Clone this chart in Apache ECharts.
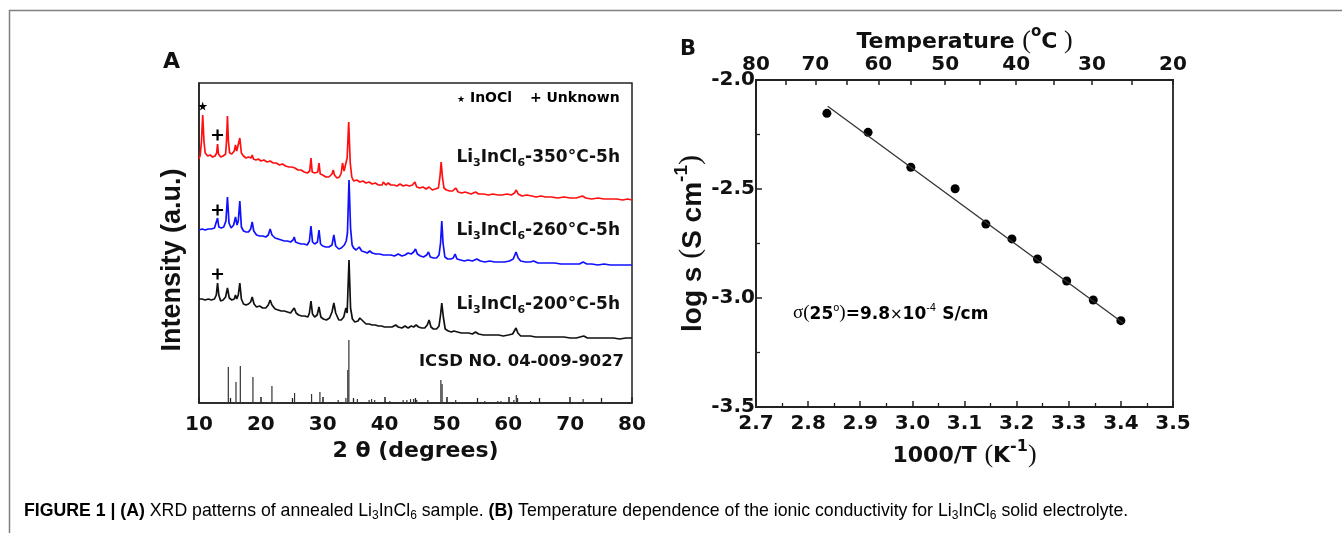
<!DOCTYPE html>
<html><head><meta charset="utf-8">
<script src="https://cdn.jsdelivr.net/npm/echarts@6.0.0/dist/echarts.min.js"></script>
<style>html,body{margin:0;padding:0;background:#fff}#c{width:1342px;height:533px}</style>
</head><body><div id="c"></div>
<script>
// ---------- Panel A: XRD patterns (2θ in degrees, intensity in arbitrary offset units) ----------
const xrd350 = [[10.0,244],[10.2,248],[10.4,262],[10.6,288],[10.8,262],[11.0,250],[11.4,247],[11.8,248],[12.2,246],[12.6,247],[12.85,250],[13.0,259],[13.15,249],[13.5,246],[13.9,247],[14.3,249],[14.45,262],[14.6,287],[14.75,262],[14.95,250],[15.3,249],[15.7,252],[15.9,258],[16.1,252],[16.35,254],[16.6,265],[16.85,250],[17.2,247],[17.6,245],[18.0,246],[18.4,245],[18.6,248],[18.8,244],[19.2,243],[19.6,244],[20.0,242],[20.5,243],[21.0,241],[21.5,242],[22.0,240],[22.5,240],[23.0,238],[23.5,239],[24.0,237],[24.5,236],[25.0,236],[25.5,235],[26.0,233],[26.5,233],[27.0,231],[27.5,230],[27.9,232],[28.1,245],[28.3,231],[28.7,230],[29.2,231],[29.4,240],[29.6,229],[30.0,228],[30.5,226],[31.0,226],[31.5,229],[31.7,233],[31.9,228],[32.3,225],[32.7,226],[33.0,230],[33.2,240],[33.45,232],[33.7,232],[33.95,245],[34.2,281],[34.45,240],[34.7,226],[35.0,222],[35.5,223],[36.0,221],[36.5,222],[37.0,220],[37.5,221],[38.0,219],[38.5,220],[39.0,218],[39.6,218],[39.8,221],[40.2,218],[40.6,220],[41.0,218],[41.5,218],[42.0,217],[42.5,219],[43.0,217],[43.5,218],[44.0,217],[44.5,218],[44.9,221],[45.2,216],[45.7,215],[46.2,216],[46.7,214],[47.2,216],[47.7,213],[48.2,214],[48.7,215],[48.95,226],[49.15,241],[49.35,226],[49.6,215],[50.0,213],[50.5,212],[51.0,212],[51.5,215],[51.9,211],[52.5,210],[53.0,211],[53.5,210],[54.0,209],[54.7,211],[55.2,209],[56.0,209],[56.8,208],[57.5,209],[58.3,208],[59.0,208],[59.8,209],[60.5,208],[61.0,210],[61.3,213],[61.6,209],[62.2,207],[63.0,208],[63.8,207],[64.5,206],[65.3,207],[66.0,206],[67.0,206],[68.0,205],[69.0,206],[70.0,205],[71.0,205],[72.0,207],[72.5,205],[73.5,204],[74.5,205],[75.5,204],[76.5,204],[77.5,204],[78.5,203],[79.3,204],[80.0,203]];
const xrd260 = [[10.0,173],[10.5,174],[11.0,173],[11.5,174],[12.0,174],[12.5,175],[12.8,177],[13.0,185],[13.2,176],[13.6,175],[14.0,176],[14.35,182],[14.6,206],[14.85,180],[15.2,175],[15.6,178],[15.9,186],[16.15,178],[16.35,182],[16.6,202],[16.85,176],[17.2,172],[17.6,171],[18.0,171],[18.35,174],[18.6,181],[18.85,172],[19.3,168],[19.8,167],[20.3,167],[20.8,166],[21.2,168],[21.5,174],[21.8,168],[22.3,165],[22.8,164],[23.3,163],[23.8,162],[24.3,162],[24.8,161],[25.2,163],[25.4,166],[25.6,161],[26.0,160],[26.5,159],[27.0,159],[27.5,158],[27.85,162],[28.1,177],[28.35,161],[28.7,159],[29.15,161],[29.4,173],[29.65,159],[30.0,157],[30.5,156],[31.0,156],[31.5,158],[31.8,168],[32.1,157],[32.6,154],[33.0,155],[33.5,158],[33.8,162],[34.0,170],[34.25,223],[34.5,175],[34.75,158],[35.0,155],[35.4,153],[35.9,156],[36.3,152],[36.8,151],[37.2,150],[37.6,152],[38.0,150],[38.6,149],[39.2,149],[39.8,148],[40.4,148],[41.0,148],[41.6,147],[42.2,149],[42.8,147],[43.3,148],[43.8,150],[44.3,149],[44.7,151],[45.0,154],[45.3,149],[45.8,147],[46.3,146],[46.8,148],[47.1,151],[47.4,146],[47.9,145],[48.4,145],[48.8,148],[49.05,160],[49.25,182],[49.45,160],[49.75,146],[50.2,144],[50.7,144],[51.1,145],[51.4,149],[51.7,144],[52.3,143],[52.9,142],[53.5,143],[54.2,142],[54.9,144],[55.5,142],[56.2,141],[57.0,142],[57.8,141],[58.6,141],[59.4,141],[60.2,142],[60.8,144],[61.25,151],[61.6,145],[62.0,142],[62.8,141],[63.5,141],[64.1,142],[64.8,140],[65.6,140],[66.5,140],[67.5,140],[68.5,139],[69.5,139],[70.5,139],[71.5,139],[72.1,141],[72.7,139],[73.5,139],[74.5,138],[75.5,139],[76.5,138],[77.5,138],[78.5,138],[79.3,138],[80.0,138]];
const xrd200 = [[10.0,104],[10.5,104],[11.0,103],[11.5,104],[12.0,103],[12.5,104],[12.8,108],[13.0,120],[13.2,108],[13.5,102],[13.9,103],[14.3,106],[14.6,115],[14.9,105],[15.3,103],[15.7,104],[15.9,108],[16.1,104],[16.35,108],[16.6,120],[16.85,104],[17.2,99],[17.6,98],[18.0,99],[18.35,101],[18.6,106],[18.9,99],[19.3,96],[19.8,97],[20.3,95],[20.8,95],[21.2,98],[21.5,103],[21.8,98],[22.3,94],[22.8,93],[23.3,92],[23.8,92],[24.3,91],[24.8,90],[25.1,92],[25.4,95],[25.7,90],[26.1,88],[26.6,87],[27.1,87],[27.6,86],[27.85,90],[28.1,102],[28.35,89],[28.7,86],[29.1,88],[29.4,96],[29.7,86],[30.1,84],[30.6,83],[31.1,85],[31.5,91],[31.8,100],[32.1,90],[32.6,83],[33.0,83],[33.4,86],[33.75,95],[33.95,90],[34.25,143],[34.5,95],[34.8,84],[35.2,81],[35.7,82],[36.0,85],[36.2,87],[36.5,82],[37.0,79],[37.5,79],[38.0,78],[38.5,78],[39.0,77],[39.5,77],[40.0,76],[40.6,76],[41.2,76],[41.8,78],[42.2,76],[42.8,75],[43.3,77],[43.8,75],[44.3,77],[44.7,76],[45.1,78],[45.5,76],[46.0,75],[46.5,75],[46.9,78],[47.2,83],[47.5,76],[47.9,74],[48.4,74],[48.8,77],[49.05,88],[49.25,100],[49.5,86],[49.8,74],[50.3,72],[50.8,71],[51.2,72],[51.5,74],[51.8,71],[52.4,70],[53.0,70],[53.6,70],[54.2,69],[54.7,71],[55.2,69],[56.0,68],[56.8,68],[57.6,68],[58.4,68],[59.2,67],[60.0,68],[60.7,69],[61.0,71],[61.25,75],[61.55,70],[62.0,67],[62.8,67],[63.6,67],[64.4,66],[65.2,66],[66.0,66],[67.0,66],[68.0,66],[69.0,66],[70.0,65],[71.0,65],[72.2,67],[72.8,65],[74.0,65],[75.0,65],[76.0,65],[77.0,65],[78.0,64],[79.0,65],[80.0,65]];
const icsdSticks = [[14.74,36],[15.98,21],[16.68,37],[18.72,26],[21.79,17],[25.45,10],[28.2,9],[29.55,11],[32.5,3],[33.75,5],[34.05,33],[34.23,63],[35.6,4],[37.5,3],[37.9,4],[38.4,3],[40.85,2],[43.0,3],[43.6,3],[44.2,4],[44.7,4],[45.2,3],[47.0,3],[49.1,23],[49.3,19],[51.5,3],[56.2,2],[58.3,2],[58.8,2],[60.9,3],[61.3,8],[61.5,5],[63.6,2],[72.1,4]];
const starMarks = [[10.6,297]];
const plusMarks = [[13.0,268],[13.0,193],[13.0,129]];
const seriesLabels = ['350', '260', '200'];

// ---------- Panel B: conductivity ----------
const invT = [2.836, 2.915, 2.997, 3.082, 3.141, 3.191, 3.240, 3.296, 3.347, 3.400];
const logSigma = [-2.153, -2.240, -2.400, -2.499, -2.661, -2.729, -2.821, -2.922, -3.009, -3.104];
const fitLine = [[2.8375, -2.12], [3.405, -3.116]];
const tempLabels = [80, 70, 60, 50, 40, 30, 20];
const tempTicks = [80, 75, 70, 65, 60, 55, 50, 45, 40, 35, 30, 25, 20];

const K0 = 273.15;
const toInv = c => 1000 / (c + K0);

const B = 'DejaVu Sans';
const AR = 'Liberation Sans';
const SER = 'Liberation Serif';
const black = '#111';

const chart = echarts.init(document.getElementById('c'), null, {renderer: 'canvas'});

const subStyle = (fs, pad) => ({fontFamily: B, fontWeight: 'bold', fontSize: fs, color: black, verticalAlign: 'top', padding: [pad, 0, 0, 0]});
const mainStyle = (fs) => ({fontFamily: B, fontWeight: 'bold', fontSize: fs, color: black, verticalAlign: 'top', padding: [0, 0, 0, 0]});

function sampleLabel(temp, y) {
  return {
    type: 'text', right: 1342 - 620, top: y,
    style: {
      text: '{m|Li}{s|3}{m|InCl}{s|6}{m|-' + temp + '°C-5h}',
      rich: {m: mainStyle(17), s: subStyle(11, 9)},
      fill: black
    }
  };
}

const option = {
  animation: false,
  backgroundColor: '#fff',
  grid: [
    {left: 199, top: 83, width: 433, height: 320, show: true, borderColor: '#222', borderWidth: 1.5},
    {left: 756, top: 80, width: 417, height: 327, show: true, borderColor: '#222', borderWidth: 1.8}
  ],
  xAxis: [
    {
      gridIndex: 0, type: 'value', min: 10, max: 80, interval: 10,
      axisLine: {lineStyle: {color: '#222', width: 1.5}},
      axisTick: {inside: true, length: 6, lineStyle: {color: '#222', width: 1.5}},
      minorTick: {show: true, splitNumber: 2, length: 5, lineStyle: {color: '#222', width: 1.3}},
      splitLine: {show: false},
      axisLabel: {fontFamily: B, fontWeight: 'bold', fontSize: 20, color: black, margin: 12},
      name: '2 θ (degrees)', nameLocation: 'middle', nameGap: 29,
      nameTextStyle: {fontFamily: B, fontWeight: 'bold', fontSize: 22, color: black}
    },
    {
      gridIndex: 1, type: 'value', min: 2.7, max: 3.5, interval: 0.1,
      axisLine: {lineStyle: {color: '#222', width: 1.8}},
      axisTick: {inside: true, length: 6, lineStyle: {color: '#222', width: 1.5}},
      minorTick: {show: true, splitNumber: 2, length: 4, lineStyle: {color: '#222', width: 1.3}},
      splitLine: {show: false},
      axisLabel: {fontFamily: B, fontWeight: 'bold', fontSize: 20, color: black, margin: 7, formatter: v => v.toFixed(1)},
      name: '{b|1000/T }{p|(}{b|K}{sup|-1}{p|)}', nameLocation: 'middle', nameGap: 25,
      nameTextStyle: {
        rich: {
          b: {fontFamily: B, fontWeight: 'bold', fontSize: 22, color: black, verticalAlign: 'top', padding: [6, 0, 0, 0]},
          p: {fontFamily: SER, fontSize: 26, color: black, verticalAlign: 'top', padding: [3, 0, 0, 0]},
          sup: {fontFamily: B, fontWeight: 'bold', fontSize: 16, color: black, verticalAlign: 'top', padding: [0, 0, 0, 0]}
        }
      }
    },
    {
      gridIndex: 1, type: 'value', position: 'top', min: toInv(80), max: toInv(20),
      axisLine: {show: true, lineStyle: {color: '#222', width: 1.8}},
      axisTick: {show: true, inside: true, length: 5, customValues: tempTicks.map(toInv), lineStyle: {color: '#222', width: 1.5}},
      splitLine: {show: false},
      axisLabel: {
        fontFamily: B, fontWeight: 'bold', fontSize: 20, color: black, margin: 5,
        customValues: tempLabels.map(toInv),
        formatter: v => String(Math.round(1000 / v - K0))
      },
      name: '{b|Temperature }{p|(}{sup|o}{b|C}{p| )}', nameLocation: 'middle', nameGap: 26,
      nameMoveOverlap: false,
      nameTextStyle: {
        rich: {
          b: {fontFamily: B, fontWeight: 'bold', fontSize: 22, color: black, verticalAlign: 'top', padding: [6, 0, 0, 0]},
          p: {fontFamily: SER, fontSize: 26, color: black, verticalAlign: 'top', padding: [3, 0, 0, 0]},
          sup: {fontFamily: B, fontWeight: 'bold', fontSize: 15, color: black, verticalAlign: 'top', padding: [0, 0, 0, 0]}
        }
      }
    }
  ],
  yAxis: [
    {
      gridIndex: 0, type: 'value', min: 0, max: 320,
      axisLine: {show: true, lineStyle: {color: '#222', width: 1.5}},
      axisTick: {show: false}, axisLabel: {show: false}, splitLine: {show: false},
      name: 'Intensity (a.u.)', nameLocation: 'middle', nameGap: 13,
      nameTextStyle: {fontFamily: AR, fontWeight: 'bold', fontSize: 27, color: black, padding: [0, 34, 0, 0]}
    },
    {
      gridIndex: 1, type: 'value', min: -3.5, max: -2.0, interval: 0.5,
      axisLine: {show: true, lineStyle: {color: '#222', width: 1.8}},
      axisTick: {inside: true, length: 6, lineStyle: {color: '#222', width: 1.5}},
      minorTick: {show: true, splitNumber: 2, length: 4, lineStyle: {color: '#222', width: 1.3}},
      splitLine: {show: false},
      axisLabel: {fontFamily: B, fontWeight: 'bold', fontSize: 20, color: black, margin: 1, formatter: v => v.toFixed(1)},
      name: '{b|log s }{p|(}{b|S cm}{sup|-1}{p|)}', nameLocation: 'middle', nameGap: 39,
      nameTextStyle: {
        rich: {
          b: {fontFamily: AR, fontWeight: 'bold', fontSize: 28, color: black, verticalAlign: 'top', padding: [7, 0, 0, 0]},
          p: {fontFamily: SER, fontSize: 30, color: black, verticalAlign: 'top', padding: [4, 0, 0, 0]},
          sup: {fontFamily: AR, fontWeight: 'bold', fontSize: 19, color: black, verticalAlign: 'top', padding: [0, 0, 0, 0]}
        }
      }
    }
  ],
  series: [
    {type: 'bar', xAxisIndex: 0, yAxisIndex: 0, data: icsdSticks, barWidth: 1.2, itemStyle: {color: '#333'}, silent: true},
    {type: 'line', xAxisIndex: 0, yAxisIndex: 0, data: xrd200, showSymbol: false, lineStyle: {color: '#111', width: 1.7}},
    {type: 'line', xAxisIndex: 0, yAxisIndex: 0, data: xrd260, showSymbol: false, lineStyle: {color: '#1010ff', width: 1.7}},
    {type: 'line', xAxisIndex: 0, yAxisIndex: 0, data: xrd350, showSymbol: false, lineStyle: {color: '#ff1010', width: 1.7}},
    {type: 'scatter', xAxisIndex: 0, yAxisIndex: 0, data: starMarks, symbol: 'path://M50,0 L61,35 L98,35 L68,57 L79,91 L50,70 L21,91 L32,57 L2,35 L39,35 Z', symbolSize: 9, itemStyle: {color: '#000', opacity: 1}},
    {type: 'scatter', xAxisIndex: 0, yAxisIndex: 0, data: plusMarks, symbol: 'path://M40,0 H60 V40 H100 V60 H60 V100 H40 V60 H0 V40 H40 Z', symbolSize: 11, itemStyle: {color: '#000', opacity: 1}},
    {type: 'line', xAxisIndex: 1, yAxisIndex: 1, data: fitLine, showSymbol: false, lineStyle: {color: '#333', width: 1.3}},
    {type: 'scatter', xAxisIndex: 1, yAxisIndex: 1, data: invT.map((x, i) => [x, logSigma[i]]), symbol: 'circle', symbolSize: 9, itemStyle: {color: '#000', opacity: 1}}
  ],
  graphic: [
    {type: 'polyline', shape: {points: [[9.5, 533], [9.5, 10.5], [1342, 10.5]]}, style: {stroke: '#808080', lineWidth: 1.5, fill: null}},
    {type: 'text', left: 163, top: 51, style: {text: 'A', font: 'bold 22px "DejaVu Sans"', fill: black}},
    {type: 'text', left: 680, top: 39, style: {text: 'B', font: 'bold 21px "DejaVu Sans"', fill: black}},
    {type: 'text', left: 457, top: 91, style: {
      text: '{st|★}{m| InOCl}{g|    }{pl|+}{m| Unknown}',
      rich: {
        st: {fontFamily: B, fontSize: 9, color: black, verticalAlign: 'top', padding: [4, 0, 0, 0]},
        pl: {fontFamily: B, fontWeight: 'bold', fontSize: 14, color: black, verticalAlign: 'top', padding: [0, 0, 0, 0]},
        g: {fontFamily: B, fontSize: 14},
        m: {fontFamily: B, fontWeight: 'bold', fontSize: 14, color: black, verticalAlign: 'top', padding: [0, 0, 0, 0]}
      }
    }},
    sampleLabel(seriesLabels[0], 149),
    sampleLabel(seriesLabels[1], 222),
    sampleLabel(seriesLabels[2], 296),
    {type: 'text', right: 1342 - 624, top: 354, style: {text: 'ICSD NO. 04-009-9027', font: 'bold 16.4px "DejaVu Sans"', fill: black}},
    {type: 'text', left: 793, top: 303, style: {
      text: '{s|σ(}{b|25}{su|o}{s|)}{b|=9.8}{x|×}{b|10}{su|-4}{b| S/cm}',
      rich: {
        s: {fontFamily: SER, fontSize: 19, color: black, verticalAlign: 'top', padding: [2, 0, 0, 0]},
        b: {fontFamily: B, fontWeight: 'bold', fontSize: 17, color: black, verticalAlign: 'top', padding: [4, 0, 0, 0]},
        x: {fontFamily: B, fontSize: 15, color: black, verticalAlign: 'top', padding: [6, 0, 0, 0]},
        su: {fontFamily: B, fontSize: 10, color: black, verticalAlign: 'top', padding: [1, 0, 0, 0]}
      }
    }},
    {type: 'text', left: 24, top: 502, style: {
      text: '{h|FIGURE 1 | (A)}{r| XRD patterns of annealed Li}{s|3}{r|InCl}{s|6}{r| sample. }{h|(B)}{r| Temperature dependence of the ionic conductivity for Li}{s|3}{r|InCl}{s|6}{r| solid electrolyte.}',
      rich: {
        h: {fontFamily: AR, fontWeight: 'bold', fontSize: 17.7, color: '#111', verticalAlign: 'top'},
        r: {fontFamily: AR, fontSize: 17.7, color: '#111', verticalAlign: 'top'},
        s: {fontFamily: AR, fontSize: 12, color: '#111', verticalAlign: 'top', padding: [8, 0, 0, 0]}
      }
    }}
  ]
};
chart.setOption(option);
</script></body></html>
